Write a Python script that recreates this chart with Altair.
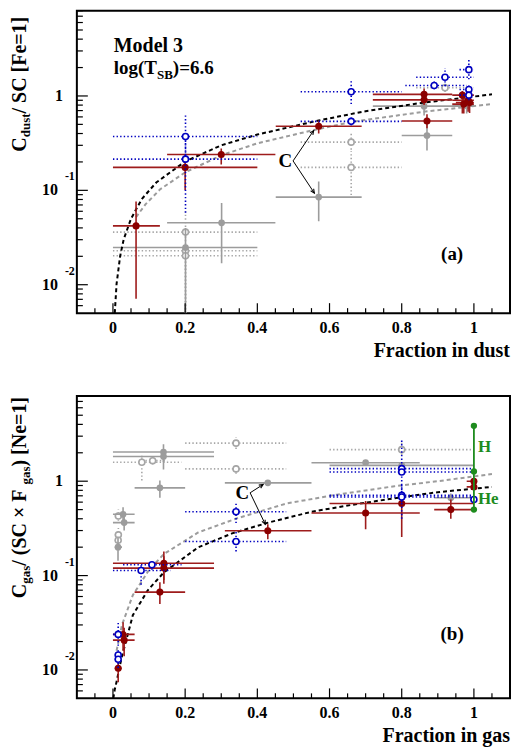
import math
import altair as alt
import pandas as pd

W, H = 434, 303
XMIN, XMAX = -0.1, 1.1
YMIN, YMAX = 0.005, 8.0
FONT = "Liberation Serif"

RED = "#8b0000"
RED_BAR = "#9e1c1c"
BLUE = "#0000c0"
GRAY = "#9c9c9c"
GRAY_OPEN = "#a6a6a6"
GREEN = "#1e8c1e"

# ---------------- panel (a): fraction in dust ----------------
A_RED_X = [0.064, 0.20, 0.30, 0.57, 0.862, 0.862, 0.87, 0.968, 0.984, 0.972, 0.988]
A_RED_Y = [0.042, 0.175, 0.24, 0.477, 1.04, 0.91, 0.543, 1.02, 0.90, 0.82, 0.85]
A_RED_XLO = [0.0, 0.0, 0.15, 0.451, 0.72, 0.72, 0.80, 0.94, 0.94, 0.94, 0.95]
A_RED_XHI = [0.13, 0.40, 0.45, 0.689, 0.94, 0.94, 0.94, 1.0, 1.0, 1.0, 1.0]
A_RED_YLO = [0.0071, 0.10, 0.188, 0.40, 0.90, 0.80, 0.455, 0.65, 0.68, 0.65, 0.66]
A_RED_YHI = [0.076, 0.24, 0.277, 0.55, 1.2, 1.02, 0.64, 1.13, 1.05, 0.95, 1.0]

A_BLUE_X = [0.201, 0.201, 0.66, 0.66, 0.89, 0.92, 0.986, 0.986, 0.986]
A_BLUE_Y = [0.372, 0.214, 1.11, 0.538, 1.29, 1.58, 1.90, 1.17, 1.02]
A_BLUE_XLO = [0.0, 0.0, 0.52, 0.52, 0.81, 0.84, 0.96, 0.96, 0.96]
A_BLUE_XHI = [0.40, 0.40, 0.80, 0.80, 0.98, 1.0, 1.0, 1.0, 1.0]
A_BLUE_YLO = [0.21, 0.058, 0.82, 0.49, 1.18, 1.27, 1.5, 1.05, 0.9]
A_BLUE_YHI = [0.63, 0.35, 1.44, 0.59, 1.42, 1.98, 2.4, 1.3, 1.12]

A_GRAY_X = [0.301, 0.201, 0.57, 0.87, 0.862, 0.98]
A_GRAY_Y = [0.0453, 0.0248, 0.0848, 0.381, 0.78, 0.786]
A_GRAY_XLO = [0.15, 0.0, 0.451, 0.80, 0.72, 0.94]
A_GRAY_XHI = [0.45, 0.40, 0.689, 0.94, 1.0, 1.0]
A_GRAY_YLO = [0.0169, 0.005, 0.0471, 0.265, 0.62, 0.65]
A_GRAY_YHI = [0.0734, 0.04, 0.124, 0.525, 0.9, 0.9]

A_GOPEN_X = [0.201, 0.201, 0.201, 0.66, 0.66, 0.92]
A_GOPEN_Y = [0.0361, 0.0229, 0.0203, 0.324, 0.175, 1.22]
A_GOPEN_XLO = [0.0, 0.0, 0.0, 0.52, 0.52, 0.84]
A_GOPEN_XHI = [0.40, 0.40, 0.40, 0.80, 0.80, 1.0]
A_GOPEN_YLO = [0.005, 0.019, 0.005, 0.27, 0.089, 1.1]
A_GOPEN_YHI = [0.06, 0.027, 0.024, 0.40, 0.26, 1.35]

A_BLACK_CURVE_X = [0.005, 0.01, 0.02, 0.03, 0.05, 0.08, 0.12, 0.2, 0.3, 0.4, 0.57, 0.7, 0.86, 1.05]
A_BLACK_CURVE_Y = [0.005, 0.0102, 0.0202, 0.0305, 0.05, 0.081, 0.121, 0.202, 0.30, 0.39, 0.55, 0.69, 0.85, 1.04]
A_GRAY_CURVE_X = [0.064, 0.09, 0.13, 0.2, 0.3, 0.4, 0.55, 0.66, 0.86, 1.05]
A_GRAY_CURVE_Y = [0.052, 0.071, 0.102, 0.155, 0.235, 0.315, 0.43, 0.53, 0.68, 0.82]

A_ARROW_X0 = [0.499, 0.499]
A_ARROW_Y0 = [0.205, 0.205]
A_ARROW_X1 = [0.556, 0.558]
A_ARROW_Y1 = [0.43, 0.0935]

# ---------------- panel (b): fraction in gas ----------------
B_RED_X = [0.0145, 0.028, 0.031, 0.141, 0.141, 0.13, 0.429, 0.70, 0.80, 0.936, 1.0, 1.0]
B_RED_Y = [0.0104, 0.0238, 0.0207, 0.135, 0.12, 0.0668, 0.298, 0.46, 0.58, 0.50, 1.0, 0.87]
B_RED_XLO = [0.005, 0.0, 0.0, 0.0, 0.0, 0.06, 0.31, 0.55, 0.60, 0.89, 0.98, 0.98]
B_RED_XHI = [0.024, 0.06, 0.06, 0.28, 0.28, 0.20, 0.55, 0.85, 1.0, 1.0, 1.0, 1.0]
B_RED_YLO = [0.0074, 0.016, 0.014, 0.082, 0.09, 0.050, 0.243, 0.31, 0.257, 0.40, 0.92, 0.80]
B_RED_YHI = [0.0143, 0.032, 0.028, 0.18, 0.16, 0.085, 0.35, 0.616, 0.695, 0.64, 1.08, 0.95]

B_BLUE_X = [0.0145, 0.0145, 0.0145, 0.078, 0.108, 0.341, 0.341, 0.80, 0.80, 0.80, 0.80, 1.0]
B_BLUE_Y = [0.0238, 0.0144, 0.013, 0.113, 0.13, 0.475, 0.23, 1.36, 1.25, 0.707, 0.68, 0.64]
B_BLUE_XLO = [0.0, 0.005, 0.005, 0.0, 0.028, 0.20, 0.20, 0.60, 0.60, 0.60, 0.60, 0.99]
B_BLUE_XHI = [0.03, 0.025, 0.025, 0.16, 0.19, 0.48, 0.48, 1.0, 1.0, 1.0, 1.0, 1.0]
B_BLUE_YLO = [0.018, 0.012, 0.0105, 0.08, 0.115, 0.36, 0.18, 1.25, 0.7, 0.40, 0.6, 0.6]
B_BLUE_YHI = [0.032, 0.017, 0.016, 0.135, 0.145, 0.60, 0.30, 1.5, 2.7, 0.95, 0.78, 0.68]

B_GRAY_X = [0.014, 0.028, 0.031, 0.14, 0.14, 0.13, 0.429, 0.70, 0.80, 0.936]
B_GRAY_Y = [0.20, 0.446, 0.364, 2.04, 1.83, 0.85, 0.96, 1.57, 1.47, 0.668]
B_GRAY_XLO = [0.005, 0.0, 0.0, 0.0, 0.0, 0.06, 0.31, 0.55, 0.60, 0.89]
B_GRAY_XHI = [0.025, 0.06, 0.06, 0.28, 0.28, 0.20, 0.55, 0.85, 1.0, 1.0]
B_GRAY_YLO = [0.144, 0.37, 0.30, 1.6, 1.33, 0.667, 0.9, 1.47, 1.3, 0.6]
B_GRAY_YHI = [0.25, 0.53, 0.43, 2.47, 2.2, 1.02, 1.02, 1.68, 1.6, 0.74]

B_GOPEN_X = [0.015, 0.015, 0.0145, 0.08, 0.11, 0.341, 0.341, 0.80]
B_GOPEN_Y = [0.428, 0.27, 0.237, 1.585, 1.65, 2.53, 1.35, 2.16]
B_GOPEN_XLO = [0.005, 0.005, 0.005, 0.0, 0.08, 0.20, 0.20, 0.60]
B_GOPEN_XHI = [0.03, 0.025, 0.025, 0.19, 0.15, 0.48, 0.48, 1.0]
B_GOPEN_YLO = [0.38, 0.22, 0.2, 1.02, 1.5, 2.2, 1.2, 1.9]
B_GOPEN_YHI = [0.5, 0.32, 0.27, 1.9, 1.8, 2.9, 1.5, 2.6]

B_GREEN_X = [1.0, 1.0, 1.0]
B_GREEN_Y = [3.86, 1.27, 0.50]
B_GREEN_LABELS = ["H", "He"]
B_GREEN_LABEL_Y = [2.30, 0.64]

B_BLACK_CURVE_X = [0.001, 0.005, 0.010, 0.024, 0.042, 0.055, 0.096, 0.141, 0.236, 0.33, 0.43, 0.551, 0.66, 0.78, 0.9, 1.05]
B_BLACK_CURVE_Y = [0.005, 0.0062, 0.0075, 0.0135, 0.0245, 0.038, 0.0695, 0.108, 0.199, 0.28, 0.364, 0.475, 0.56, 0.66, 0.765, 0.87]
B_GRAY_CURVE_X = [0.01, 0.025, 0.055, 0.1, 0.141, 0.236, 0.34, 0.48, 0.62, 0.78, 0.9, 1.05]
B_GRAY_CURVE_Y = [0.016, 0.03, 0.062, 0.115, 0.169, 0.286, 0.40, 0.58, 0.72, 0.885, 1.0, 1.19]

B_ARROW_X0 = [0.380, 0.380]
B_ARROW_Y0 = [0.753, 0.753]
B_ARROW_X1 = [0.416, 0.422]
B_ARROW_Y1 = [0.923, 0.35]

# ---------------- axes ----------------
X_MAJOR = [0.0, 0.2, 0.4, 0.6, 0.8, 1.0]
X_LABELS = ["0", "0.2", "0.4", "0.6", "0.8", "1"]
X_MINOR = [-0.05, 0.05, 0.1, 0.15, 0.25, 0.3, 0.35, 0.45, 0.5, 0.55, 0.65, 0.7,
           0.75, 0.85, 0.9, 0.95, 1.05]
Y_MAJOR = [0.01, 0.1, 1.0]
Y_MINOR = [0.006, 0.007, 0.008, 0.009,
           0.02, 0.03, 0.04, 0.05, 0.06, 0.07, 0.08, 0.09,
           0.2, 0.3, 0.4, 0.5, 0.6, 0.7, 0.8, 0.9,
           2, 3, 4, 5, 6, 7, 8]
Y_LABEL_ONE = [1.0]
Y_LABEL_POW = [0.1, 0.01]
Y_LABEL_EXP = ["-1", "-2"]

XS = alt.Scale(domain=[XMIN, XMAX], nice=False, zero=False)
YS = alt.Scale(type="log", domain=[YMIN, YMAX], nice=False)

CW = {'C': .722, 'd': .556, 'u': .556, 's': .389, 't': .333, ' ': .25, '/': .278,
      'S': .556, '[': .333, ']': .333, 'F': .611, 'e': .444, '=': .570, '1': .5,
      '(': .333, ')': .333, '×': .570, 'g': .5, 'a': .5, 'N': .722, 'l': .278,
      'o': .5, 'T': .667, 'B': .667, '6': .5, '.': .25}


def tw(s, size):
    return sum(CW.get(c, 0.5) for c in s) * size


def X(f):
    return alt.X(f, type="quantitative", scale=XS, axis=None)


def Y(f):
    return alt.Y(f, type="quantitative", scale=YS, axis=None)


def series(x, y, xlo, xhi, ylo, yhi, color, bar, dotted, filled, size):
    df = pd.DataFrame(dict(x=x, y=y, xlo=xlo, xhi=xhi, ylo=ylo, yhi=yhi))
    kw = dict(color=bar, strokeWidth=1.6, clip=True)
    if dotted:
        kw["strokeDash"] = [1.4, 2.2]
    base = alt.Chart(df)
    hx = base.mark_rule(**kw).encode(x=X("xlo"), x2=alt.X2("xhi"), y=Y("y"))
    vy = base.mark_rule(**kw).encode(x=X("x"), y=Y("ylo"), y2=alt.Y2("yhi"))
    if filled:
        pt = base.mark_point(shape="circle", filled=True, color=color, size=size,
                             opacity=1, clip=True)
    else:
        pt = base.mark_point(shape="circle", filled=True, fill="white", stroke=color,
                             strokeWidth=1.6, size=size, opacity=1, clip=True)
    return [hx, vy, pt.encode(x=X("x"), y=Y("y"))]


def curve(x, y, color):
    df = pd.DataFrame(dict(x=x, y=y))
    return alt.Chart(df).mark_line(color=color, strokeWidth=2, strokeDash=[4, 3],
                                   clip=True).encode(x=X("x"), y=Y("y"), order="x:Q")


def arrows(x0, y0, x1, y1):
    ppx = W / (XMAX - XMIN)
    ppd = H / (math.log10(YMAX) - math.log10(YMIN))
    ang = []
    for a, b, c, d in zip(x0, y0, x1, y1):
        dx = (c - a) * ppx
        dy = -(math.log10(d) - math.log10(b)) * ppd
        ang.append(math.degrees(math.atan2(dx, -dy)) % 360)
    df = pd.DataFrame(dict(x0=x0, y0=y0, x1=x1, y1=y1, ang=ang))
    base = alt.Chart(df)
    line = base.mark_rule(color="black", strokeWidth=1).encode(
        x=X("x0"), y=Y("y0"), x2=alt.X2("x1"), y2=alt.Y2("y1"))
    head = base.mark_point(shape="M-0.4,0.9L0,0L0.4,0.9", filled=False, stroke="black",
                           strokeWidth=1.1, size=80, opacity=1).encode(
        x=X("x1"), y=Y("y1"), angle=alt.Angle("ang:Q", scale=None))
    lab = alt.Chart(pd.DataFrame(dict(x=[x0[0]], y=[y0[0]], t=["C"]))).mark_text(
        font=FONT, fontWeight="bold", fontSize=19, align="right", baseline="middle",
        dx=-1).encode(x=X("x"), y=Y("y"), text="t:N")
    return [line, head, lab]


def ylabel(v, t, xpx, size, dy=0):
    return alt.Chart(pd.DataFrame(dict(v=[v], t=[t]))).mark_text(
        font=FONT, fontWeight="bold", fontSize=size, baseline="middle", align="right",
        dy=dy).encode(y=Y("v"), x=alt.value(xpx), text="t:N")


def frame_layers(xtitle, ytitle_pieces):
    layers = []
    # ticks (inside)
    layers.append(alt.Chart(pd.DataFrame(dict(v=X_MAJOR))).mark_rule(color="black", strokeWidth=1.2)
                  .encode(x=X("v"), y=alt.value(H), y2=alt.value(H - 10)))
    layers.append(alt.Chart(pd.DataFrame(dict(v=X_MINOR))).mark_rule(color="black", strokeWidth=1.2)
                  .encode(x=X("v"), y=alt.value(H), y2=alt.value(H - 5)))
    layers.append(alt.Chart(pd.DataFrame(dict(v=Y_MAJOR))).mark_rule(color="black", strokeWidth=1.2)
                  .encode(y=Y("v"), x=alt.value(0), x2=alt.value(11)))
    layers.append(alt.Chart(pd.DataFrame(dict(v=Y_MINOR))).mark_rule(color="black", strokeWidth=1.2)
                  .encode(y=Y("v"), x=alt.value(0), x2=alt.value(6)))
    # x labels
    layers.append(alt.Chart(pd.DataFrame(dict(v=X_MAJOR, t=X_LABELS))).mark_text(
        font=FONT, fontWeight="bold", fontSize=16, baseline="middle", align="center")
        .encode(x=X("v"), y=alt.value(H + 15), text="t:N"))
    # y labels: "1", and "10" with a raised exponent
    layers.append(ylabel(Y_LABEL_ONE[0], "1", -14, 16))
    for v, e in zip(Y_LABEL_POW, Y_LABEL_EXP):
        layers.append(ylabel(v, "10", -19, 16))
        layers.append(ylabel(v, e, -2, 12, dy=-14))
    # x title
    layers.append(alt.Chart(pd.DataFrame(dict(t=[xtitle]))).mark_text(
        font=FONT, fontWeight="bold", fontSize=20, align="right", baseline="alphabetic")
        .encode(x=alt.value(W), y=alt.value(H + 44), text="t:N"))
    # y title, rotated, built from pieces so that subscripts are real text
    total = sum(tw(s, sz) for s, sz, _ in ytitle_pieces)
    pos = 1 + total
    for s, sz, dy in ytitle_pieces:
        layers.append(alt.Chart(pd.DataFrame(dict(t=[s]))).mark_text(
            font=FONT, fontWeight="bold", fontSize=sz, align="left", baseline="middle",
            angle=270, dy=dy).encode(x=alt.value(-57), y=alt.value(pos), text="t:N"))
        pos -= tw(s, sz)
    return layers


def text_at(t, x, y, size, color="black", align="left", baseline="alphabetic", dy=0):
    return alt.Chart(pd.DataFrame(dict(t=[t]))).mark_text(
        font=FONT, fontWeight="bold", fontSize=size, align=align, baseline=baseline,
        color=color, dy=dy).encode(x=alt.value(x), y=alt.value(y), text="t:N")


# ---------- build panel a ----------
la = []
la += series(A_GOPEN_X, A_GOPEN_Y, A_GOPEN_XLO, A_GOPEN_XHI, A_GOPEN_YLO, A_GOPEN_YHI,
             GRAY_OPEN, GRAY_OPEN, True, False, 36)
la += series(A_GRAY_X, A_GRAY_Y, A_GRAY_XLO, A_GRAY_XHI, A_GRAY_YLO, A_GRAY_YHI,
             GRAY, GRAY, False, True, 45)
la.append(curve(A_GRAY_CURVE_X, A_GRAY_CURVE_Y, GRAY))
la.append(curve(A_BLACK_CURVE_X, A_BLACK_CURVE_Y, "black"))
la += series(A_RED_X, A_RED_Y, A_RED_XLO, A_RED_XHI, A_RED_YLO, A_RED_YHI,
             RED, RED_BAR, False, True, 50)
la += series(A_BLUE_X, A_BLUE_Y, A_BLUE_XLO, A_BLUE_XHI, A_BLUE_YLO, A_BLUE_YHI,
             BLUE, BLUE, True, False, 36)
la += arrows(A_ARROW_X0, A_ARROW_Y0, A_ARROW_X1, A_ARROW_Y1)
la += frame_layers("Fraction in dust", [("C", 20, 0), ("dust", 13, 6), (" / SC [Fe=1]", 20, 0)])
la.append(text_at("Model 3", 37, 41, 20))
lx = 37
la.append(text_at("log(T", lx, 63, 19))
lx += tw("log(T", 19)
la.append(text_at("SB", lx, 68, 13))
lx += tw("SB", 13)
la.append(text_at(")=6.6", lx, 63, 19))
la.append(text_at("(a)", 376, 244, 19, align="center", baseline="middle"))
panel_a = alt.layer(*la).properties(width=W, height=H)

# ---------- build panel b ----------
lb = []
lb += series(B_GOPEN_X, B_GOPEN_Y, B_GOPEN_XLO, B_GOPEN_XHI, B_GOPEN_YLO, B_GOPEN_YHI,
             GRAY_OPEN, GRAY_OPEN, True, False, 36)
lb += series(B_GRAY_X, B_GRAY_Y, B_GRAY_XLO, B_GRAY_XHI, B_GRAY_YLO, B_GRAY_YHI,
             GRAY, GRAY, False, True, 45)
lb.append(curve(B_GRAY_CURVE_X, B_GRAY_CURVE_Y, GRAY))
lb.append(curve(B_BLACK_CURVE_X, B_BLACK_CURVE_Y, "black"))
lb += series(B_RED_X, B_RED_Y, B_RED_XLO, B_RED_XHI, B_RED_YLO, B_RED_YHI,
             RED, RED_BAR, False, True, 50)
lb += series(B_BLUE_X, B_BLUE_Y, B_BLUE_XLO, B_BLUE_XHI, B_BLUE_YLO, B_BLUE_YHI,
             BLUE, BLUE, True, False, 36)
gdf = pd.DataFrame(dict(x=B_GREEN_X, y=B_GREEN_Y))
lb.append(alt.Chart(pd.DataFrame(dict(x=[B_GREEN_X[0]], lo=[min(B_GREEN_Y)], hi=[max(B_GREEN_Y)])))
          .mark_rule(color=GREEN, strokeWidth=1.8).encode(x=X("x"), y=Y("lo"), y2=alt.Y2("hi")))
lb.append(alt.Chart(gdf).mark_point(shape="circle", filled=True, color=GREEN, size=40, opacity=1)
          .encode(x=X("x"), y=Y("y")))
lb.append(alt.Chart(pd.DataFrame(dict(x=[1.0, 1.0], y=B_GREEN_LABEL_Y, t=B_GREEN_LABELS)))
          .mark_text(font=FONT, fontWeight="bold", fontSize=17, color=GREEN, align="left",
                     baseline="middle", dx=4).encode(x=X("x"), y=Y("y"), text="t:N"))
lb += arrows(B_ARROW_X0, B_ARROW_Y0, B_ARROW_X1, B_ARROW_Y1)
lb += frame_layers("Fraction in gas", [("C", 20, 0), ("gas", 13, 6), (" / (SC × F", 20, 0),
                                        ("gas", 13, 6), (") [Ne=1]", 20, 0)])
lb.append(text_at("(b)", 376, 239, 19, align="center", baseline="middle"))
panel_b = alt.layer(*lb).properties(width=W, height=H)

chart = alt.vconcat(panel_a, panel_b, spacing=83, bounds="flush").properties(
    padding={"left": 0, "top": 0, "right": 0, "bottom": 0}
).configure_view(stroke="black", strokeWidth=2)

chart.save("out.html", embed_options={"renderer": "svg", "actions": False})
